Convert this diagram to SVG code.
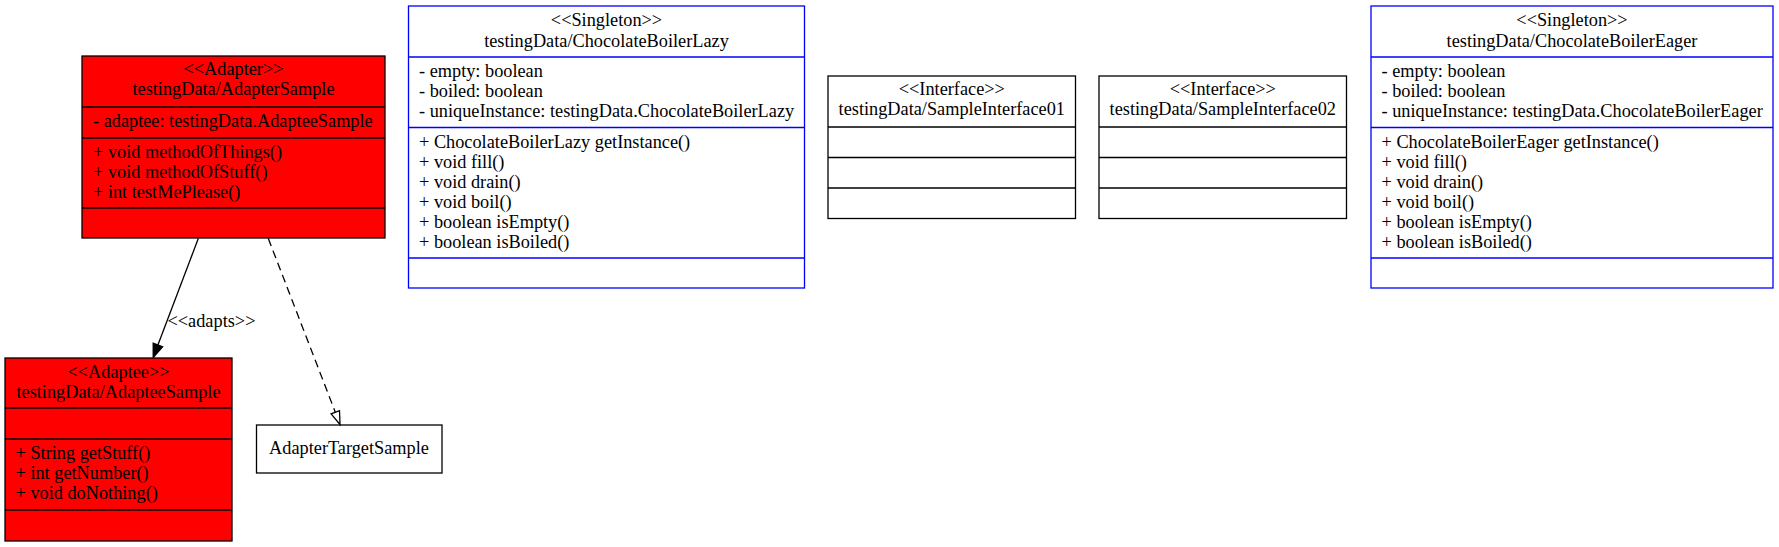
<svg xmlns="http://www.w3.org/2000/svg" width="1779" height="547" viewBox="0 0 1779 547">
<style>
text{font-family:"Liberation Serif","Times New Roman",serif;font-size:18.3px;fill:#000}
.c{text-anchor:middle}
.red rect{fill:#ff0000;stroke:#000;stroke-width:1.3}
.red line{stroke:#000;stroke-width:1.3}
.blue rect{fill:#fff;stroke:#0000ff;stroke-width:1.3}
.blue line{stroke:#0000ff;stroke-width:1.3}
.plain rect{fill:#fff;stroke:#000;stroke-width:1.3}
.plain line{stroke:#000;stroke-width:1.3}
.edge{fill:none;stroke:#000;stroke-width:1.3}
</style>
<rect width="1779" height="547" fill="#fff"/>
<g id="AdapterSample" class="red">
<rect x="82" y="56" width="303" height="182"/>
<line x1="82" y1="107" x2="385" y2="107"/>
<line x1="82" y1="138" x2="385" y2="138"/>
<line x1="82" y1="208" x2="385" y2="208"/>
<text class="c" x="233.5" y="75">&lt;&lt;Adapter&gt;&gt;</text>
<text class="c" x="233.5" y="95">testingData/AdapterSample</text>
<text x="93" y="127">- adaptee: testingData.AdapteeSample</text>
<text x="93" y="158">+ void methodOfThings()</text>
<text x="93" y="178">+ void methodOfStuff()</text>
<text x="93" y="198">+ int testMePlease()</text>
</g>
<g id="AdapteeSample" class="red">
<rect x="5" y="358" width="227" height="183"/>
<line x1="5" y1="408" x2="232" y2="408"/>
<line x1="5" y1="439" x2="232" y2="439"/>
<line x1="5" y1="510" x2="232" y2="510"/>
<text class="c" x="118.5" y="377.5">&lt;&lt;Adaptee&gt;&gt;</text>
<text class="c" x="118.5" y="397.5">testingData/AdapteeSample</text>
<text x="15.5" y="459">+ String getStuff()</text>
<text x="15.5" y="479">+ int getNumber()</text>
<text x="15.5" y="499">+ void doNothing()</text>
</g>
<g id="AdapterTargetSample" class="plain">
<rect x="256.5" y="425" width="185.5" height="48"/>
<text class="c" x="349" y="454">AdapterTargetSample</text>
</g>
<g id="ChocolateBoilerLazy" class="blue">
<rect x="408.5" y="6" width="396" height="282"/>
<line x1="408.5" y1="57" x2="804.5" y2="57"/>
<line x1="408.5" y1="127.5" x2="804.5" y2="127.5"/>
<line x1="408.5" y1="258" x2="804.5" y2="258"/>
<text class="c" x="606.5" y="26">&lt;&lt;Singleton&gt;&gt;</text>
<text class="c" x="606.5" y="46.5">testingData/ChocolateBoilerLazy</text>
<text x="419" y="76.5">- empty: boolean</text>
<text x="419" y="96.5">- boiled: boolean</text>
<text x="419" y="116.5">- uniqueInstance: testingData.ChocolateBoilerLazy</text>
<text x="419" y="148">+ ChocolateBoilerLazy getInstance()</text>
<text x="419" y="168">+ void fill()</text>
<text x="419" y="188">+ void drain()</text>
<text x="419" y="208">+ void boil()</text>
<text x="419" y="228">+ boolean isEmpty()</text>
<text x="419" y="248">+ boolean isBoiled()</text>
</g>
<g id="SampleInterface01" class="plain">
<rect x="828" y="76" width="247.5" height="142.5"/>
<line x1="828" y1="127" x2="1075.5" y2="127"/>
<line x1="828" y1="157.5" x2="1075.5" y2="157.5"/>
<line x1="828" y1="188" x2="1075.5" y2="188"/>
<text class="c" x="951.8" y="95">&lt;&lt;Interface&gt;&gt;</text>
<text class="c" x="951.8" y="115">testingData/SampleInterface01</text>
</g>
<g id="SampleInterface02" class="plain">
<rect x="1099" y="76" width="247.5" height="142.5"/>
<line x1="1099" y1="127" x2="1346.5" y2="127"/>
<line x1="1099" y1="157.5" x2="1346.5" y2="157.5"/>
<line x1="1099" y1="188" x2="1346.5" y2="188"/>
<text class="c" x="1222.8" y="95">&lt;&lt;Interface&gt;&gt;</text>
<text class="c" x="1222.8" y="115">testingData/SampleInterface02</text>
</g>
<g id="ChocolateBoilerEager" class="blue">
<rect x="1371" y="6" width="402" height="282"/>
<line x1="1371" y1="57" x2="1773" y2="57"/>
<line x1="1371" y1="127.5" x2="1773" y2="127.5"/>
<line x1="1371" y1="258" x2="1773" y2="258"/>
<text class="c" x="1572" y="26">&lt;&lt;Singleton&gt;&gt;</text>
<text class="c" x="1572" y="46.5">testingData/ChocolateBoilerEager</text>
<text x="1381.5" y="76.5">- empty: boolean</text>
<text x="1381.5" y="96.5">- boiled: boolean</text>
<text x="1381.5" y="116.5">- uniqueInstance: testingData.ChocolateBoilerEager</text>
<text x="1381.5" y="148">+ ChocolateBoilerEager getInstance()</text>
<text x="1381.5" y="168">+ void fill()</text>
<text x="1381.5" y="188">+ void drain()</text>
<text x="1381.5" y="208">+ void boil()</text>
<text x="1381.5" y="228">+ boolean isEmpty()</text>
<text x="1381.5" y="248">+ boolean isBoiled()</text>
</g>
<g id="connectors">
<path class="edge" d="M198.3,238.5 L157.9,345"/>
<polygon points="153.2,357.5 153.2,343.2 162.6,346.8" fill="#000" stroke="#000" stroke-width="1.3"/>
<text x="167.5" y="327">&lt;&lt;adapts&gt;&gt;</text>
<path class="edge" d="M268.3,238.5 L335.3,412.2" stroke-dasharray="8,5"/>
<polygon points="340,424.5 339.5,410.6 331.1,413.8" fill="#fff" stroke="#000" stroke-width="1.3"/>
</g>
</svg>
